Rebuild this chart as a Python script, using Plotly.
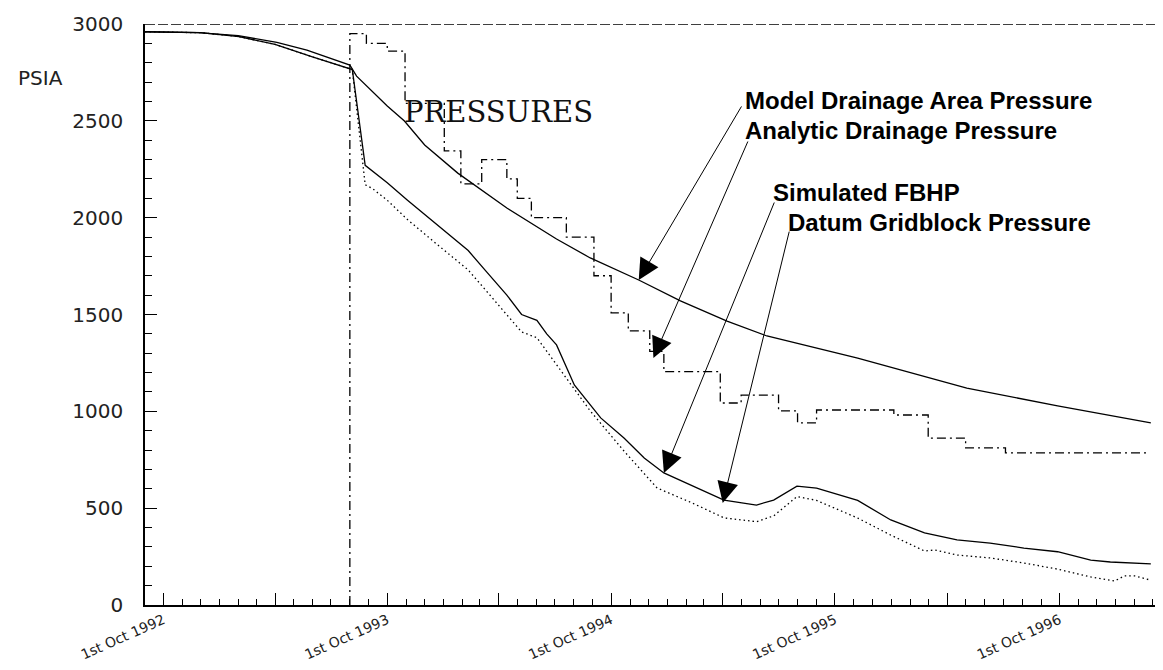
import plotly.graph_objects as go

# ---------------- data ----------------
model_dates = ["1992-09-01", "1992-11-26", "1993-01-31", "1993-04-04", "1993-05-23",
               "1993-07-11", "1993-08-01", "1993-08-12", "1993-09-04", "1993-10-01",
               "1993-10-29", "1993-12-01", "1994-01-24", "1994-04-14", "1994-07-04",
               "1994-08-28", "1994-11-15", "1995-01-22", "1995-04-08", "1995-06-12",
               "1995-11-07", "1996-05-03", "1996-09-28", "1997-02-27"]
model_psi = [2960, 2955, 2940, 2905, 2865,
             2809, 2788, 2731, 2659, 2577,
             2499, 2375, 2230, 2050, 1890,
             1792, 1678, 1570, 1466, 1389,
             1275, 1120, 1028, 940]

analytic_dates = ["1993-08-01", "1993-08-01", "1993-08-28", "1993-10-01", "1993-10-30",
                  "1994-01-02", "1994-01-29", "1994-03-04", "1994-04-14", "1994-05-01",
                  "1994-05-24", "1994-07-20", "1994-09-03", "1994-10-01", "1994-10-29",
                  "1994-12-03", "1994-12-26", "1995-03-28", "1995-05-01", "1995-07-01",
                  "1995-08-01", "1995-09-01", "1996-01-05", "1996-03-01", "1996-05-01",
                  "1996-07-05", "1997-02-21"]
analytic_psi = [0, 2950, 2900, 2860, 2590,
                2345, 2175, 2300, 2200, 2100,
                2000, 1900, 1700, 1508, 1415,
                1310, 1205, 1043, 1084, 1002,
                940, 1007, 981, 862, 811,
                785, 785]

fbhp_dates = ["1992-09-01", "1992-12-01", "1993-02-01", "1993-04-01", "1993-06-01",
              "1993-08-05", "1993-08-26", "1993-09-07", "1993-10-01", "1993-11-03",
              "1993-12-22", "1994-02-10", "1994-03-12", "1994-04-14", "1994-05-08",
              "1994-06-02", "1994-06-18", "1994-07-04", "1994-08-02", "1994-09-14",
              "1994-10-22", "1994-11-24", "1994-12-26", "1995-02-08", "1995-04-03",
              "1995-05-26", "1995-06-23", "1995-07-31", "1995-09-01", "1995-11-07",
              "1995-12-31", "1996-02-24", "1996-04-17", "1996-06-10", "1996-08-04",
              "1996-09-28", "1996-11-21", "1996-12-23", "1997-02-27"]
fbhp_psi = [2960, 2955, 2935, 2895, 2830,
            2765, 2270, 2240, 2180, 2090,
            1960, 1830, 1720, 1600, 1500,
            1470, 1400, 1343, 1136, 966,
            862, 759, 682, 620, 542,
            516, 542, 614, 604, 540,
            439, 372, 336, 320, 294,
            275, 232, 222, 212]

datum_dates = ["1992-09-01", "1992-12-01", "1993-02-01", "1993-04-01", "1993-06-01",
               "1993-08-05", "1993-08-26", "1993-09-07", "1993-10-01", "1993-11-03",
               "1993-12-22", "1994-02-10", "1994-03-12", "1994-04-14", "1994-05-08",
               "1994-06-02", "1994-06-18", "1994-07-04", "1994-08-28", "1994-10-22",
               "1994-12-15", "1995-02-08", "1995-04-03", "1995-05-26", "1995-06-23",
               "1995-07-31", "1995-09-01", "1995-11-07", "1995-12-31", "1996-02-24",
               "1996-03-12", "1996-04-17", "1996-06-10", "1996-08-04", "1996-09-28",
               "1996-11-21", "1996-12-30", "1997-01-15", "1997-02-01", "1997-02-26"]
datum_psi = [2960, 2955, 2935, 2895, 2830,
             2765, 2170, 2150, 2090, 1990,
             1860, 1730, 1620, 1500, 1410,
             1380, 1310, 1239, 1002, 795,
             604, 530, 450, 430, 460,
             560, 540, 449, 361, 279,
             284, 258, 243, 217, 185,
             145, 124, 150, 150, 129]

x_tick_vals = ["1992-10-01", "1993-04-01", "1993-10-01", "1994-04-01", "1994-10-01",
               "1995-04-01", "1995-10-01", "1996-04-01", "1996-10-01"]
x_tick_text = ["1st Oct 1992", "", "1st Oct 1993", "", "1st Oct 1994",
               "", "1st Oct 1995", "", "1st Oct 1996"]
y_tick_vals = [0, 500, 1000, 1500, 2000, 2500, 3000]
y_tick_text = ["0", "500", "1000", "1500", "2000", "2500", "3000"]

labels = ["Model Drainage Area Pressure", "Analytic Drainage Pressure",
          "Simulated FBHP", "Datum Gridblock Pressure"]
# arrow heads (date, psi) and tails (date, psi)
arrow_head_dates = ["1994-11-15", "1994-12-09", "1994-12-26", "1995-04-01"]
arrow_head_psi = [1678, 1275, 682, 527]
arrow_tail_dates = ["1995-05-03", "1995-05-13", "1995-06-25", "1995-07-19"]
arrow_tail_psi = [2582, 2401, 2086, 1936]

# ---------------- figure ----------------
W, H = 1163, 670
L, R, T, B = 137, 1160, 16, 597  # plot area in pixels


def px(xp):
    return (xp - L) / (R - L)


def py(yp):
    return (B - yp) / (B - T)


fig = go.Figure()
ink = "black"
fig.add_trace(go.Scatter(x=model_dates, y=model_psi, mode="lines",
                         line=dict(color=ink, width=1.3), name=labels[0]))
fig.add_trace(go.Scatter(x=analytic_dates, y=analytic_psi, mode="lines",
                         line=dict(color=ink, width=1.3, dash="9px,4px,2px,4px", shape="hv"),
                         name=labels[1]))
fig.add_trace(go.Scatter(x=fbhp_dates, y=fbhp_psi, mode="lines",
                         line=dict(color=ink, width=1.3), name=labels[2]))
fig.add_trace(go.Scatter(x=datum_dates, y=datum_psi, mode="lines",
                         line=dict(color=ink, width=1.3, dash="1.5px,3px"), name=labels[3]))

fig.update_layout(
    width=W, height=H,
    margin=dict(l=L, r=W - R, t=T, b=H - B, autoexpand=False),
    paper_bgcolor="white", plot_bgcolor="white",
    showlegend=False,
    xaxis=dict(
        type="date", automargin=False,
        range=["1992-09-01", "1997-03-27"],
        tickmode="array", tickvals=x_tick_vals, ticktext=x_tick_text,
        tickangle=-24,
        ticks="inside", ticklen=12, tickwidth=1.3, tickcolor=ink,
        showline=True, linecolor=ink, linewidth=1.5,
        showgrid=False, zeroline=False,
        tickfont=dict(family="DejaVu Sans", size=14, color="#222"),
        ticklabelstandoff=0,
        minor=dict(tickmode="linear", tick0="1992-09-01", dtick="M1",
                   ticks="inside", ticklen=6, tickwidth=1.2, tickcolor=ink,
                   showgrid=False),
    ),
    yaxis=dict(
        automargin=False,
        range=[0, 3000],
        tickmode="array", tickvals=y_tick_vals, ticktext=y_tick_text,
        ticks="inside", ticklen=12, tickwidth=1.3, tickcolor=ink,
        showline=True, linecolor=ink, linewidth=1.5,
        showgrid=False, zeroline=False,
        tickfont=dict(family="DejaVu Sans", size=20, color="#222"),
        ticklabelstandoff=16,
        minor=dict(tickmode="linear", tick0=0, dtick=100,
                   ticks="inside", ticklen=7, tickwidth=1.2, tickcolor=ink,
                   showgrid=False),
    ),
)

# dashed top border at 3000
fig.add_shape(type="line", xref="paper", yref="y", x0=0, x1=1, y0=3000, y1=3000,
              line=dict(color=ink, width=1.5, dash="10px,3px"))

# axis title and chart title
fig.add_annotation(text="PSIA", xref="paper", yref="paper", x=px(8), y=py(70),
                   xanchor="left", yanchor="middle", showarrow=False,
                   font=dict(family="DejaVu Sans", size=20, color="#222"))
fig.add_annotation(text="PRESSURES", xref="paper", yref="paper", x=px(394), y=py(104),
                   xanchor="left", yanchor="middle", showarrow=False,
                   font=dict(family="DejaVu Serif", size=29, color="#111"))

# labels
label_pos = [(735, 93), (735, 123), (763, 184), (778, 214)]
for txt, (lx, ly) in zip(labels, label_pos):
    fig.add_annotation(text="<b>" + txt + "</b>", xref="paper", yref="paper",
                       x=px(lx), y=py(ly), xanchor="left", yanchor="middle",
                       showarrow=False,
                       font=dict(family="Liberation Sans", size=24, color="black"))

# arrows
for hd, hp, td, tp in zip(arrow_head_dates, arrow_head_psi, arrow_tail_dates, arrow_tail_psi):
    fig.add_annotation(text="", x=hd, y=hp, xref="x", yref="y",
                       ax=td, ay=tp, axref="x", ayref="y",
                       showarrow=True, arrowhead=2, arrowsize=4.2, arrowwidth=1,
                       arrowcolor=ink, standoff=0)

fig.write_html("out.html")
